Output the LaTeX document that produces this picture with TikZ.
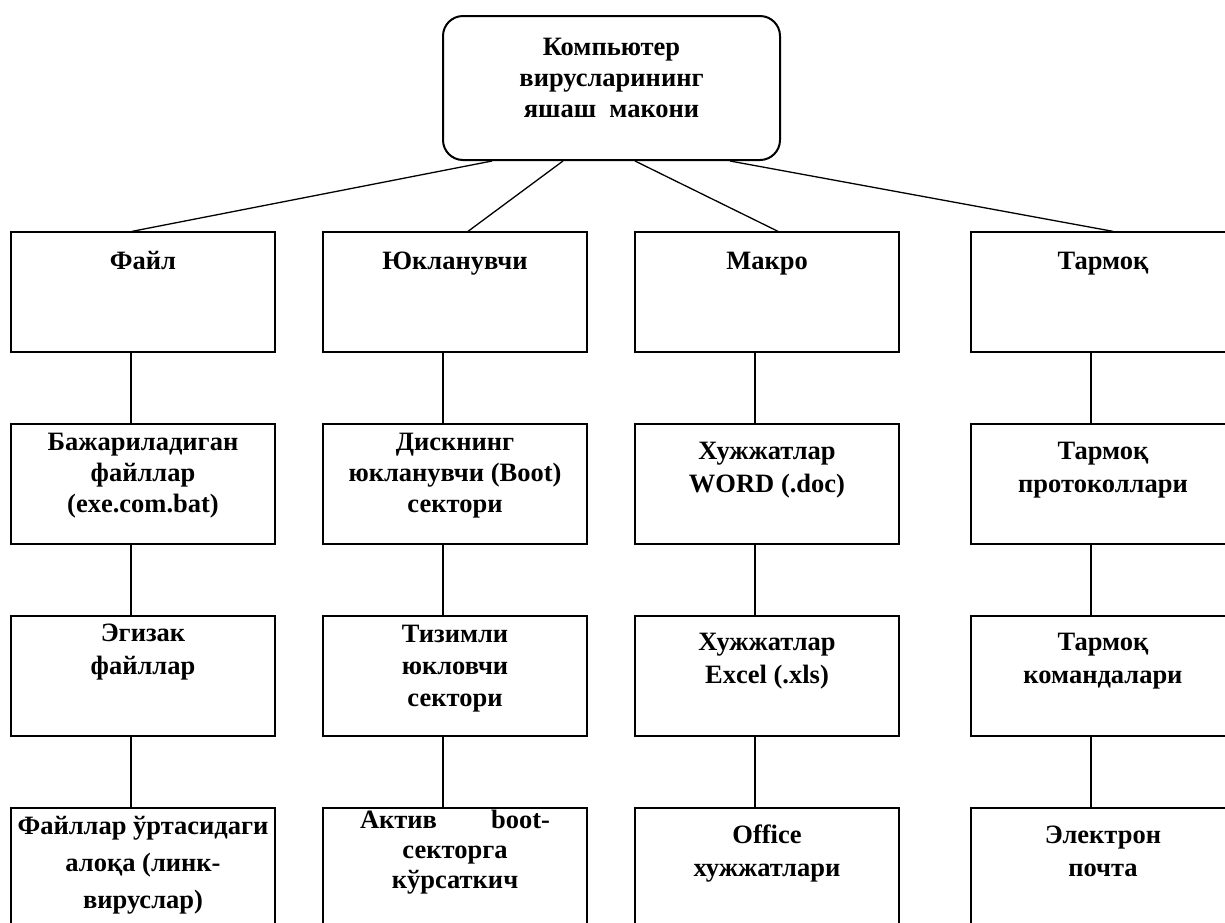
\documentclass[tikz,border=0pt]{standalone}
\usepackage{fontspec}
\setmainfont{Liberation Serif}
% centred multi-line label whose baseline is that of its first line
\newcommand{\mlines}[1]{\begin{tabular}[t]{@{}c@{}}#1\end{tabular}}
\begin{document}
\begin{tikzpicture}[x=1pt,y=-1pt,
  box/.style={draw, line width=1.3pt, rectangle, minimum width=264pt, minimum height=120pt, inner sep=0pt},
  rootbox/.style={draw, line width=2pt, rectangle, rounded corners=20pt, minimum width=337pt, minimum height=144pt, inner sep=0pt},
  lbl/.style={anchor=base, inner sep=0pt, font=\fontsize{26.5}{#1}\selectfont\bfseries},
  lbl/.default=31,
  wire/.style={line width=1.3pt}]
\clip (0,0) rectangle (1225,922);
\fill[white] (0,0) rectangle (1225,922);

% root
\node[rootbox] (root) at (611.5,88) {};
\node[lbl] (troot) at (611.5,55) {\mlines{Компьютер\\вирусларининг\\яшаш\ \ макони}};

% boxes: rows 1..4, columns 1..4
\foreach \c/\x in {1/143,2/455,3/767,4/1103}{
  \foreach \r/\y in {1/292,2/484,3/676,4/868}{
    \node[box] (n\r\c) at (\x,\y) {};
  }
}

% row 1
\node[lbl] (t11) at (143,269) {Файл};
\node[lbl] (t12) at (455,269) {Юкланувчи};
\node[lbl] (t13) at (767,269) {Макро};
\node[lbl] (t14) at (1103,269) {Тармоқ};

% row 2
\node[lbl] (t21) at (143,450) {\mlines{Бажариладиган\\файллар\\(exe.com.bat)}};
\node[lbl] (t22) at (455,450) {\mlines{Дискнинг\\юкланувчи (Boot)\\сектори}};
\node[lbl=33] (t23) at (767,459) {\mlines{Хужжатлар\\WORD (.doc)}};
\node[lbl=33] (t24) at (1103,459) {\mlines{Тармоқ\\протоколлари}};

% row 3
\node[lbl=33] (t31) at (143,641) {\mlines{Эгизак\\файллар}};
\node[lbl=32] (t32) at (455,642) {\mlines{Тизимли\\юкловчи\\сектори}};
\node[lbl=33] (t33) at (767,650) {\mlines{Хужжатлар\\Excel (.xls)}};
\node[lbl=33] (t34) at (1103,650) {\mlines{Тармоқ\\командалари}};

% row 4
\node[lbl=37] (t41) at (143,834) {\mlines{Файллар ўртасидаги\\алоқа (линк-\\вируслар)}};
\node[lbl=30] (t42) at (455,828) {\mlines{\makebox[190pt]{Актив\hfill boot-}\\секторга\\кўрсаткич}};
\node[lbl=33] (t43) at (767,843) {\mlines{Office\\хужжатлари}};
\node[lbl=33] (t44) at (1103,843) {\mlines{Электрон\\почта}};

% root to first row
\draw[wire] ([xshift=-119.5pt]root.south) -- ([xshift=-11pt]n11.north);
\draw[wire] ([xshift=-48.5pt]root.south) -- ([xshift=13pt]n12.north);
\draw[wire] ([xshift=23.5pt]root.south) -- ([xshift=11pt]n13.north);
\draw[wire] ([xshift=118.5pt]root.south) -- ([xshift=10pt]n14.north);

% column links
\foreach \c in {1,2,3,4}{
  \draw[wire] ([xshift=-12pt]n1\c.south) -- ([xshift=-12pt]n2\c.north);
  \draw[wire] ([xshift=-12pt]n2\c.south) -- ([xshift=-12pt]n3\c.north);
  \draw[wire] ([xshift=-12pt]n3\c.south) -- ([xshift=-12pt]n4\c.north);
}
\end{tikzpicture}
\end{document}
